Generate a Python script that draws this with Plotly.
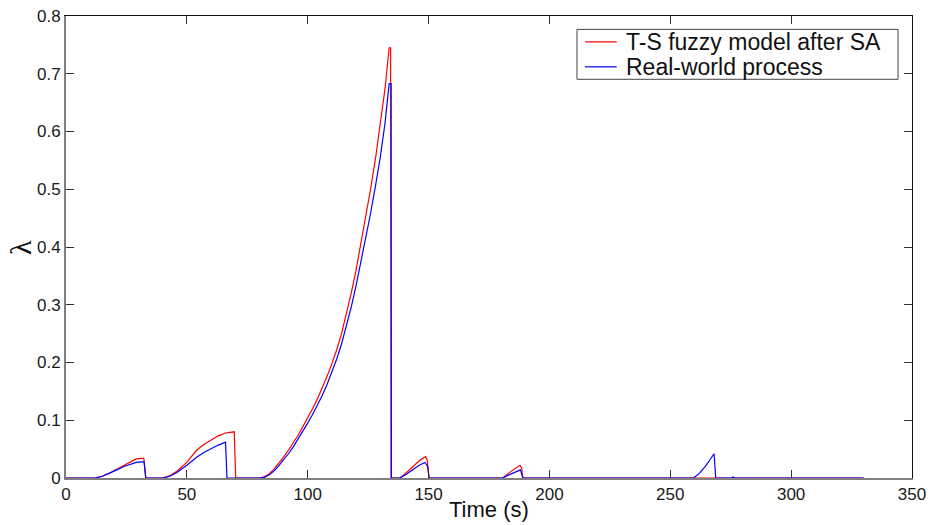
import plotly.graph_objects as go

# Time samples (s) and lambda values for the T-S fuzzy model after SA
t_model = [0, 12, 15, 18, 21, 24, 27, 29, 31, 32.2, 33,
           40, 43, 46, 50, 54, 57, 60, 63, 66, 68.5, 69.6, 70.2,
           80, 82, 84, 86, 88, 90, 92, 94, 96, 98, 100, 102, 104, 106, 108, 110,
           112, 114, 116, 118, 120, 122, 124, 126, 128, 130, 132, 133.7, 134.3, 134.5,
           138.2, 141, 144, 146.5, 148.8, 149.5, 150.2,
           180.7, 183, 185.5, 187.8, 188.5, 189,
           330]
lam_model = [0, 0, 0.003, 0.008, 0.015, 0.022, 0.029, 0.033, 0.034, 0.034, 0,
             0, 0.004, 0.012, 0.027, 0.048, 0.058, 0.066, 0.073, 0.078, 0.080, 0.080, 0,
             0, 0.002, 0.007, 0.015, 0.025, 0.036, 0.048, 0.060, 0.074, 0.089, 0.104, 0.120,
             0.137, 0.155, 0.176, 0.198, 0.222, 0.250, 0.283, 0.320, 0.360, 0.405, 0.452,
             0.500, 0.552, 0.610, 0.675, 0.745, 0.745, 0,
             0, 0.010, 0.022, 0.031, 0.037, 0.030, 0,
             0, 0.008, 0.016, 0.022, 0.018, 0,
             0]

# Time samples (s) and lambda values for the real-world process
t_real = [0, 12, 15, 18, 21, 24, 27, 29, 31.5, 32.3, 33,
          40, 43, 46, 50, 54, 57, 60, 63, 66, 66.6,
          80, 82, 84, 86, 88, 90, 92, 94, 96, 98, 100, 102, 104, 106, 108, 110,
          112, 114, 116, 118, 120, 122, 124, 126, 128, 130, 132, 133.7, 134.5, 134.6,
          138.2, 141, 144, 146.5, 148.5, 149.6, 150.2,
          180.7, 183, 185.5, 188, 189,
          259.6, 262, 264.5, 266.5, 268.1, 268.8,
          275.6, 276, 276.4,
          330]
lam_real = [0, 0, 0.003, 0.008, 0.014, 0.020, 0.025, 0.027, 0.028, 0.028, 0,
            0, 0.003, 0.010, 0.022, 0.036, 0.044, 0.051, 0.057, 0.062, 0,
            0, 0.001, 0.005, 0.012, 0.021, 0.031, 0.042, 0.054, 0.067, 0.081, 0.095, 0.110,
            0.126, 0.143, 0.162, 0.183, 0.206, 0.232, 0.262, 0.296, 0.333, 0.373, 0.415,
            0.458, 0.505, 0.555, 0.615, 0.683, 0.683, 0,
            0, 0.007, 0.016, 0.023, 0.027, 0.020, 0,
            0, 0.005, 0.010, 0.014, 0,
            0, 0.008, 0.020, 0.032, 0.042, 0,
            0, 0.002, 0,
            0]

series_names = ["T-S fuzzy model after SA", "Real-world process"]
series_colors = ["#ff0000", "#0000ff"]

x_ticks = [0, 50, 100, 150, 200, 250, 300, 350]
y_ticks = [0, 0.1, 0.2, 0.3, 0.4, 0.5, 0.6, 0.7, 0.8]
y_tick_text = ["0", "0.1", "0.2", "0.3", "0.4", "0.5", "0.6", "0.7", "0.8"]

font_main = "Liberation Sans, Arial, sans-serif"

fig = go.Figure()
fig.add_trace(go.Scatter(x=t_model, y=lam_model, mode="lines", name=series_names[0],
                         line=dict(color=series_colors[0], width=1.2), showlegend=False))
fig.add_trace(go.Scatter(x=t_real, y=lam_real, mode="lines", name=series_names[1],
                         line=dict(color=series_colors[1], width=1.2), showlegend=False))

# Invisible trace on the secondary axes so the top/right frame is drawn
fig.add_trace(go.Scatter(x=[0], y=[0], xaxis="x2", yaxis="y2", mode="markers",
                         marker=dict(opacity=0), showlegend=False, hoverinfo="skip"))

# Boxed legend in the upper right corner (paper coordinates)
box_x0, box_x1, box_y0, box_y1 = 0.604, 0.9835, 0.863, 0.971
sample_x0, sample_x1, text_x = 0.6135, 0.651, 0.659
row_y = [0.944, 0.890]

shapes = [dict(type="rect", xref="paper", yref="paper",
               x0=box_x0, x1=box_x1, y0=box_y0, y1=box_y1,
               line=dict(color="#444", width=1), fillcolor="white", layer="above")]
annotations = []
for name, color, yy in zip(series_names, series_colors, row_y):
    shapes.append(dict(type="line", xref="paper", yref="paper",
                       x0=sample_x0, x1=sample_x1, y0=yy, y1=yy,
                       line=dict(color=color, width=1.2), layer="above"))
    annotations.append(dict(xref="paper", yref="paper", x=text_x, y=yy,
                            xanchor="left", yanchor="middle", showarrow=False,
                            text=name, font=dict(size=23, family=font_main, color="#111")))

# Axis titles
annotations.append(dict(xref="paper", yref="paper", x=0.5, y=-0.069,
                        xanchor="center", yanchor="middle", showarrow=False,
                        text="Time (s)", font=dict(size=22, family=font_main, color="#111")))
annotations.append(dict(xref="paper", yref="paper", x=-0.0544, y=0.5,
                        xanchor="center", yanchor="middle", showarrow=False, textangle=-90,
                        text="λ", font=dict(size=30, family="Liberation Serif, serif",
                                            color="#111")))

fig.update_layout(
    width=930, height=525,
    margin=dict(l=66, r=18, t=16, b=47),
    paper_bgcolor="white", plot_bgcolor="white",
    font=dict(family=font_main, size=17, color="#1a1a1a"),
    xaxis=dict(range=[0, 350], tickvals=x_ticks, ticks="inside", ticklen=8,
               tickcolor="#333", showline=True, linecolor="#808080", linewidth=2,
               showgrid=False, zeroline=False, automargin=False),
    yaxis=dict(range=[0, 0.8], tickvals=y_ticks, ticktext=y_tick_text,
               ticks="inside", ticklen=8, tickcolor="#333",
               showline=True, linecolor="#808080", linewidth=2,
               showgrid=False, zeroline=False, automargin=False),
    xaxis2=dict(range=[0, 350], overlaying="x", side="top", tickvals=x_ticks,
                showticklabels=False, ticks="inside", ticklen=8, tickcolor="#333",
                showline=True, linecolor="#111", linewidth=1, showgrid=False,
                zeroline=False, automargin=False),
    yaxis2=dict(range=[0, 0.8], overlaying="y", side="right", tickvals=y_ticks,
                showticklabels=False, ticks="inside", ticklen=8, tickcolor="#333",
                showline=True, linecolor="#111", linewidth=1, showgrid=False,
                zeroline=False, automargin=False),
    shapes=shapes,
    annotations=annotations,
    showlegend=False,
)

fig.write_html("out.html")
